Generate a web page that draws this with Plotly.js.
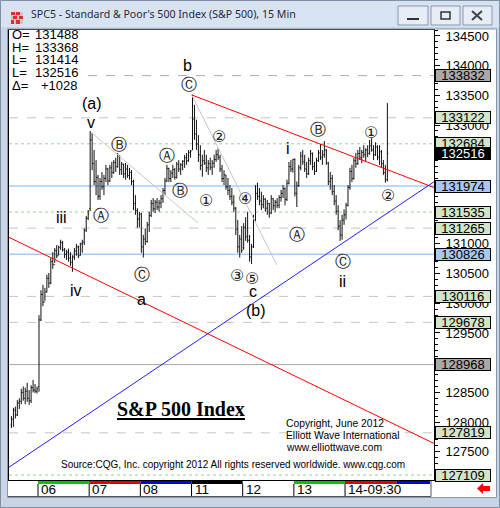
<!DOCTYPE html>
<html><head><meta charset="utf-8">
<script src="https://cdn.plot.ly/plotly-3.0.1.min.js"></script>
<style>html,body{margin:0;padding:0;background:#c9d5e6;}#chart{width:500px;height:508px;}</style>
</head><body><div id="chart"></div>
<script>
// ---------- DATA (S&P 500 index points, 15-min bars) ----------
const openP = [
1279.5,1280.5,1282.0,1281.2,1283.2,1283.5,1285.0,1284.0,1285.2,1284.0,1283.6,1285.8,1285.4,1285.2,
1286.0,1297.2,1301.5,1300.2,1301.9,1304.2,1303.4,1307.0,1306.5,1308.9,1308.0,1309.4,1310.2,1309.0,1308.2,1308.6,1307.6,1306.9,1307.8,1308.8,1309.5,1308.0,1310.0,1310.3,1312.3,1314.3,
1315.9,1327.5,1323.5,1320.5,1321.2,1318.0,1320.5,1319.6,1321.0,1322.6,1320.6,1322.8,1322.0,1323.7,1323.0,1324.8,1322.5,1323.4,1321.8,1322.6,1321.5,1322.0,1320.5,1316.8,1315.6,1314.2,
1315.0,1309.5,1310.8,1310.4,1313.2,1314.8,1316.8,1315.9,1317.0,1316.2,1316.9,1317.6,1319.0,1320.6,1322.7,1321.0,1321.9,1322.5,1321.2,1323.4,1322.6,1323.3,1323.9,1324.5,1324.0,1325.4,
1325.8,1331.0,1328.5,1326.8,1325.0,1323.2,1324.0,1323.6,1322.8,1323.5,1322.9,1323.6,1324.2,1325.0,1324.6,1322.6,1321.0,1321.6,1319.6,1319.0,1318.0,1317.0,1316.0,1312.5,1309.5,1310.8,
1309.4,1312.8,1311.2,1310.6,1307.8,1309.5,1314.0,1318.5,1318.0,1317.2,1316.6,1317.5,1316.0,1316.8,1315.2,1317.6,1316.4,1317.0,1316.5,1317.8,1318.5,1319.3,1317.5,1320.2,1323.0,1322.6,
1324.2,1318.5,1319.8,1322.8,1324.8,1323.8,1322.6,1321.8,1324.0,1325.2,1323.0,1322.2,1324.0,1325.3,1324.6,1325.0,1325.8,1323.6,1320.5,1321.0,1318.8,1317.2,1315.5,1313.0,1311.5,1314.0,
1314.9,1316.5,1319.5,1322.2,1321.0,1324.0,1323.5,1325.2,1324.5,1325.4,1325.0,1325.8,1325.2,1326.5,1325.8,1325.0,1326.3,1324.6,1325.5,1323.5,1322.0,1320.8];
const highP = [
1281.0,1282.4,1282.6,1283.7,1284.0,1285.6,1286.0,1285.8,1286.6,1285.4,1286.2,1287.1,1286.4,1286.0,
1298.0,1302.2,1303.1,1302.6,1304.8,1305.1,1307.6,1308.6,1309.3,1309.8,1309.7,1310.7,1310.5,1309.3,1309.0,1309.2,1308.6,1308.1,1309.3,1310.0,1309.7,1310.2,1310.7,1312.6,1314.7,1315.7,
1329.0,1328.7,1325.8,1324.1,1321.6,1321.1,1322.1,1321.6,1323.3,1322.8,1323.3,1323.8,1324.1,1324.5,1325.3,1324.9,1323.8,1323.5,1323.6,1323.3,1322.8,1322.4,1320.8,1318.2,1316.0,1315.4,
1315.2,1311.5,1312.6,1313.7,1315.4,1317.4,1317.7,1317.4,1317.7,1317.4,1318.2,1319.4,1321.1,1323.3,1322.8,1322.4,1323.3,1322.8,1323.8,1324.1,1323.6,1324.1,1325.0,1325.3,1325.8,1325.8,
1335.1,1333.4,1330.9,1328.3,1326.6,1325.0,1325.8,1325.0,1324.1,1324.5,1324.1,1325.0,1325.8,1326.1,1325.0,1323.3,1322.4,1321.6,1321.1,1319.9,1319.4,1318.2,1316.2,1314.0,1311.5,1313.0,
1313.5,1314.5,1315.4,1311.5,1310.0,1314.9,1319.9,1320.3,1319.4,1318.8,1318.2,1317.7,1317.4,1316.9,1318.2,1317.7,1317.4,1317.7,1318.2,1319.1,1319.9,1319.5,1320.8,1323.8,1324.1,1324.3,
1324.4,1320.5,1323.3,1325.5,1325.8,1325.0,1323.8,1324.5,1325.8,1325.4,1323.8,1324.5,1325.8,1326.8,1325.8,1327.3,1326.0,1323.8,1322.1,1321.6,1319.9,1318.2,1316.5,1314.0,1314.9,1315.8,
1316.9,1319.9,1322.8,1323.3,1324.5,1325.3,1325.8,1326.3,1325.8,1326.6,1326.1,1326.6,1327.5,1327.8,1326.6,1327.1,1326.6,1326.6,1325.8,1324.1,1323.3,1333.7];
const lowP = [
1279.0,1279.2,1280.6,1281.0,1282.2,1283.0,1283.6,1283.0,1283.4,1282.9,1283.2,1285.0,1284.9,1284.8,
1285.1,1297.0,1299.5,1300.4,1301.8,1302.6,1303.2,1305.8,1306.8,1307.6,1308.1,1309.0,1308.7,1307.6,1307.3,1307.0,1306.3,1305.3,1307.3,1308.0,1307.6,1308.0,1308.5,1309.8,1312.0,1314.0,
1315.5,1322.4,1319.9,1318.2,1317.4,1317.4,1319.1,1318.2,1320.4,1319.9,1320.4,1321.1,1321.8,1322.1,1322.8,1321.6,1321.6,1321.1,1320.8,1321.1,1320.8,1319.9,1315.7,1314.9,1312.7,1312.8,
1308.5,1307.7,1309.8,1310.2,1312.0,1314.5,1315.4,1315.2,1315.7,1315.4,1316.0,1316.9,1318.2,1320.4,1320.4,1320.4,1321.1,1320.8,1321.0,1322.1,1321.6,1322.4,1322.8,1323.3,1323.8,1324.5,
1325.8,1327.5,1325.8,1323.8,1322.4,1321.3,1323.3,1322.1,1321.6,1322.4,1321.6,1322.8,1323.8,1324.1,1322.1,1320.4,1319.9,1319.1,1318.2,1317.4,1316.5,1315.4,1311.5,1308.5,1307.7,1308.5,
1309.0,1310.5,1310.2,1307.0,1306.6,1309.3,1313.8,1317.4,1316.5,1315.7,1316.0,1315.4,1314.9,1314.4,1315.0,1315.7,1315.4,1316.0,1316.0,1317.1,1317.7,1316.5,1317.2,1320.0,1322.1,1322.0,
1318.0,1316.2,1319.6,1322.4,1323.3,1322.1,1321.1,1321.6,1323.3,1322.4,1321.6,1322.1,1323.8,1324.1,1323.3,1324.5,1323.3,1319.9,1319.1,1318.2,1316.5,1314.9,1312.3,1310.5,1310.7,1313.2,
1314.1,1316.3,1319.1,1320.4,1320.8,1322.8,1323.3,1324.1,1323.6,1324.5,1323.8,1324.6,1325.0,1325.5,1324.1,1324.8,1324.1,1323.3,1322.8,1321.6,1320.3,1320.5];
const closeP = [
1280.5,1282.0,1281.2,1283.2,1283.5,1285.0,1284.0,1285.2,1284.0,1283.6,1285.8,1285.4,1285.2,1285.6,
1297.2,1301.5,1300.2,1301.9,1304.2,1303.4,1307.0,1306.5,1308.9,1308.0,1309.4,1310.2,1309.0,1308.2,1308.6,1307.6,1306.9,1307.8,1308.8,1309.5,1308.0,1310.0,1310.3,1312.3,1314.3,1315.0,
1327.5,1323.5,1320.5,1321.2,1318.0,1320.5,1319.6,1321.0,1322.6,1320.6,1322.8,1322.0,1323.7,1323.0,1324.8,1322.5,1323.4,1321.8,1322.6,1321.5,1322.0,1320.5,1316.8,1315.6,1314.2,1315.0,
1309.5,1310.8,1310.4,1313.2,1314.8,1316.8,1315.9,1317.0,1316.2,1316.9,1317.6,1319.0,1320.6,1322.7,1321.0,1321.9,1322.5,1321.2,1323.4,1322.6,1323.3,1323.9,1324.5,1324.0,1325.4,1325.6,
1331.0,1328.5,1326.8,1325.0,1323.2,1324.0,1323.6,1322.8,1323.5,1322.9,1323.6,1324.2,1325.0,1324.6,1322.6,1321.0,1321.6,1319.6,1319.0,1318.0,1317.0,1316.0,1312.5,1309.5,1310.8,1308.9,
1312.8,1311.2,1310.6,1307.8,1309.5,1314.0,1318.5,1318.0,1317.2,1316.6,1317.5,1316.0,1316.8,1315.2,1317.6,1316.4,1317.0,1316.5,1317.8,1318.5,1319.3,1317.5,1320.2,1323.0,1322.6,1324.2,
1318.5,1319.8,1322.8,1324.8,1323.8,1322.6,1321.8,1324.0,1325.2,1323.0,1322.2,1324.0,1325.3,1324.6,1325.0,1325.8,1323.6,1320.5,1321.0,1318.8,1317.2,1315.5,1313.0,1311.5,1314.0,1314.9,
1316.5,1319.5,1322.2,1321.0,1324.0,1323.5,1325.2,1324.5,1325.4,1325.0,1325.8,1325.2,1326.5,1325.8,1325.0,1326.3,1324.6,1325.5,1323.5,1322.0,1320.8,1325.2];

const dayLabels = ['06','07','08','11','12','13','14-09:30'];
const dayStartBars = [14,40,66,92,118,144,170];

const levelValues = [133832,133122,132684,132516,131974,131535,131265,130826,130116,129678,128968,127819,127109];

// price-scale labels that are not fully hidden by the level boxes
const yTickVals = [1275,1280,1285,1295,1300,1305,1310,1330,1335,1340,1345];
const yTickText = ['127500','128000','128500','129500','130000','130500','131000','133000','133500','134000','134500'];

const infoLabels = ['O=','H=','L=','L=','\u0394='];
const infoValues = ['131488','133368','131414','132516','+1028'];

// ---------- LAYOUT HELPERS ----------
const PL=9, PR=434, PT=30, PB=480;
const px = x => (x-PL)/(PR-PL);
const py = y => (PB-y)/(PB-PT);
const barIndex = openP.map((_,i)=>i);
const XR = [-1.24, 214.7], YR = [1270.25, 1346.0];

const shapes = [];
const ann = [];
shapes.push({type:'rect',xref:'paper',yref:'paper',x0:px(8),x1:px(496),y0:py(497),y1:py(29),fillcolor:'#ffffff',line:{width:0},layer:'below'});
shapes.push({type:'rect',xref:'paper',yref:'paper',x0:px(0),x1:px(500),y0:py(27),y1:py(0),fillcolor:'#d8e3f1',line:{width:0},layer:'below'});
shapes.push({type:'rect',xref:'paper',yref:'paper',x0:px(0.5),x1:px(499.5),y0:py(507.5),y1:py(0.5),line:{color:'#7f8fa6',width:1}});
shapes.push({type:'rect',xref:'paper',yref:'paper',x0:px(7.5),x1:px(496.5),y0:py(497.5),y1:py(29),line:{color:'#8a98ac',width:1}});
[[398,428],[431,460],[463,492]].forEach(b=>{
  shapes.push({type:'rect',xref:'paper',yref:'paper',x0:px(b[0]),x1:px(b[1]),y0:py(25),y1:py(6),fillcolor:'#e6edf6',line:{color:'#8796ae',width:1}});
});
shapes.push({type:'line',xref:'paper',yref:'paper',x0:px(407),x1:px(419),y0:py(19),y1:py(19),line:{color:'#333',width:2}});
shapes.push({type:'rect',xref:'paper',yref:'paper',x0:px(441),x1:px(450),y0:py(19),y1:py(12),line:{color:'#333',width:1.5}});
shapes.push({type:'line',xref:'paper',yref:'paper',x0:px(472),x1:px(482),y0:py(11),y1:py(20),line:{color:'#444',width:2}});
shapes.push({type:'line',xref:'paper',yref:'paper',x0:px(472),x1:px(482),y0:py(20),y1:py(11),line:{color:'#444',width:2}});
shapes.push({type:'rect',xref:'paper',yref:'paper',x0:px(11),x1:px(23),y0:py(24),y1:py(12),fillcolor:'#c8c8c8',line:{width:0}});
[[11,12,15,15],[16,12,20,15],[13,16,17,19],[19,16,23,19],[11,20,14,24],[16,20,20,24]].forEach(r=>{
  shapes.push({type:'rect',xref:'paper',yref:'paper',x0:px(r[0]),x1:px(r[2]),y0:py(r[3]),y1:py(r[1]),fillcolor:'#d83030',line:{width:0}});
});

// horizontal level lines
const levelStyle = {
  133832:{c:'#b4a4bc',d:'dash',x0:px(88)}, 133122:{c:'#c4c4c4',d:'dash'}, 132684:{c:'#9ccf9c',d:'dot'},
  131974:{c:'#a9cdf2',d:'solid',w:1.5}, 131535:{c:'#9ccf9c',d:'dot'}, 131265:{c:'#c4c4c4',d:'dash'},
  130826:{c:'#a9cdf2',d:'solid',w:1.5}, 130116:{c:'#c0c8c0',d:'dash'}, 129678:{c:'#c4c4c4',d:'dash'},
  128968:{c:'#a8a8a8',d:'solid'}, 127819:{c:'#c4c4c4',d:'dash'}, 127109:{c:'#9ccf9c',d:'dot'}
};
levelValues.forEach(v=>{
  const s = levelStyle[v]; if(!s) return;
  shapes.push({type:'line',xref:'paper',yref:'y',x0:s.x0||0,x1:1,y0:v/100,y1:v/100,line:{color:s.c,dash:s.d,width:s.w||1},layer:'below'});
});
const boxStyle = {133832:['#a9a9a9','#000'],132516:['#000000','#fff'],131974:['#a8c8f2','#000'],130826:['#a8c8f2','#000'],128968:['#a9a9a9','#000']};
levelValues.forEach(v=>{
  const st = boxStyle[v] || ['#d2e4c9','#000'];
  ann.push({xref:'paper',yref:'y',x:px(463),y:v/100,text:String(v),showarrow:false,xanchor:'center',yanchor:'middle',
    width:54,height:11,bgcolor:st[0],bordercolor:'#000',borderwidth:1,borderpad:0,
    font:{family:'Liberation Sans, Arial',size:13,color:st[1]}});
});

// trend lines
const tl = (x0,y0,x1,y1,c)=>shapes.push({type:'line',xref:'x',yref:'y',x0,y0,x1,y1,line:{color:c,width:1}});
tl(40.9,1328.67,94.8,1313.5,'#c8c8c8');
tl(91.6,1335.07,134.8,1306.45,'#c8c8c8');
tl(XR[0],1311.1,XR[1],1276.4,'#ff0000');
tl(91.6,1335.07,XR[1],1319.48,'#ff0000');
tl(XR[0],1272.4,XR[1],1320.45,'#2020ff');

// date strip
const stripColors = ['#00c800','#e00000','#0000e0','#000000',null,'#00c800','#e00000','#0000e0'];
const stripStarts = dayStartBars.concat([196]);
stripStarts.forEach((s,k)=>{
  if(!stripColors[k]) return;
  const e = k+1<stripStarts.length ? stripStarts[k+1]-0.5 : XR[1]-2;
  shapes.push({type:'rect',xref:'x',yref:'paper',x0:s-0.5,x1:e,y0:py(484),y1:py(481),fillcolor:stripColors[k],line:{width:0}});
});
dayStartBars.forEach((s,k)=>{
  shapes.push({type:'line',xref:'x',yref:'paper',x0:s-0.5,x1:s-0.5,y0:py(497),y1:py(484),line:{color:'#000',width:1}});
  ann.push({xref:'x',yref:'paper',x:s-0.5,y:py(490),xanchor:'left',yanchor:'middle',xshift:1,text:dayLabels[k],showarrow:false,
    font:{family:'Liberation Sans, Arial',size:13.5,color:'#000'}});
});
shapes.push({type:'line',xref:'paper',yref:'paper',x0:px(8),x1:px(431),y0:py(496.5),y1:py(496.5),line:{color:'#555',width:1}});
shapes.push({type:'line',xref:'paper',yref:'paper',x0:px(431),x1:px(431),y0:py(496.5),y1:py(481),line:{color:'#555',width:1}});
const pp = pts => 'M'+pts.map(p=>px(p[0])+','+py(p[1])).join(' L')+' Z';
shapes.push({type:'path',xref:'paper',yref:'paper',path:pp([[477,488.5],[483,483],[483,486],[490,486],[490,491],[483,491],[483,494]]),fillcolor:'#ff0000',line:{width:0}});
shapes.push({type:'line',xref:'paper',yref:'paper',x0:px(117),x1:px(245),y0:py(419),y1:py(419),line:{color:'#000',width:2}});

ann.push({xref:'paper',yref:'paper',x:px(29),y:py(14),xanchor:'left',yanchor:'middle',showarrow:false,
  text:'SPC5 - Standard &amp; Poor\'s 500 Index (S&amp;P 500), 15 Min',font:{family:'Noto Sans, Open Sans',size:10.6,color:'#1e2a3a'}});
infoLabels.forEach((t,k)=>{
  const yy = 35 + k*12.5;
  ann.push({xref:'paper',yref:'paper',x:px(10),y:py(yy),xanchor:'left',yanchor:'middle',showarrow:false,text:t,font:{family:'Liberation Sans, Arial',size:13,color:'#000'}});
  ann.push({xref:'paper',yref:'paper',x:px(80),y:py(yy),xanchor:'right',yanchor:'middle',showarrow:false,text:infoValues[k],font:{family:'Liberation Sans, Arial',size:13,color:'#000'}});
});
[['b',89.7,1340.1],['(a)',40.9,1333.7],['v',40.4,1330.5],['iii',25.2,1314.5],['iv',32.8,1302.1],['a',66.3,1300.7],
 ['c',122.7,1301.9],['(b)',124.3,1298.7],['i',140.5,1326.0],['ii',168.0,1303.6]].forEach(w=>{
  ann.push({xref:'x',yref:'y',x:w[1],y:w[2],xanchor:'center',yanchor:'middle',text:w[0],showarrow:false,font:{family:'Liberation Sans, Arial',size:16,color:'#000'}});
});
[['\u24B8',90.4,1336.9],['\u24B7',54.7,1326.8],['\u24B6',45.5,1314.7],['\u24B8',66.2,1304.8],['\u24B6',78.9,1324.8],['\u24B7',85.7,1319.0],
 ['\u2460',98.9,1317.3],['\u2461',105.6,1328.0],['\u2463',118.7,1317.7],['\u2462',114.5,1304.6],['\u2464',122.1,1304.1],
 ['\u24B6',145.0,1311.5],['\u24B7',155.9,1329.2],['\u24B8',168.6,1307.0],['\u2460',182.6,1328.7],['\u2461',191.5,1318.2]].forEach(w=>{
  ann.push({xref:'x',yref:'y',x:w[1],y:w[2],xanchor:'center',yanchor:'middle',text:w[0],showarrow:false,font:{family:'DejaVu Sans',size:16,color:'#222'}});
});
ann.push({xref:'paper',yref:'paper',x:px(181),y:py(409),xanchor:'center',yanchor:'middle',showarrow:false,text:'<b>S&amp;P 500 Index</b>',font:{family:'Liberation Serif, Times New Roman',size:20,color:'#000'}});
['Copyright, June 2012','Elliott Wave International','www.elliottwave.com'].forEach((t,k)=>{
  ann.push({xref:'paper',yref:'paper',x:px(284),y:py(423+k*12),xanchor:'left',yanchor:'middle',showarrow:false,text:t,font:{family:'Liberation Sans, Arial',size:10.3,color:'#000'}});
});
ann.push({xref:'paper',yref:'paper',x:px(233),y:py(464),xanchor:'center',yanchor:'middle',showarrow:false,
  text:'Source:CQG, Inc. copyright 2012 All rights reserved worldwide. www.cqg.com',font:{family:'Liberation Sans, Arial',size:10,color:'#000'}});

const trace = {type:'ohlc',x:barIndex,open:openP,high:highP,low:lowP,close:closeP,
  increasing:{line:{color:'#111',width:1}},decreasing:{line:{color:'#111',width:1}},tickwidth:0.45,hoverinfo:'skip'};

const layout = {
  width:500,height:508,margin:{l:PL,r:500-PR,t:PT,b:508-PB,pad:0},
  paper_bgcolor:'#c9d5e6',plot_bgcolor:'#ffffff',showlegend:false,
  xaxis:{range:XR,rangeslider:{visible:false},showgrid:false,zeroline:false,showticklabels:false,ticks:'',
    showline:true,mirror:true,linecolor:'#000',linewidth:1,automargin:false,fixedrange:true},
  yaxis:{range:YR,side:'right',showgrid:false,zeroline:false,tickmode:'array',tickvals:yTickVals,ticktext:yTickText,
    ticks:'outside',ticklen:5,tickcolor:'#000',ticklabelstandoff:3,
    minor:{tickmode:'linear',tick0:0,dtick:1,ticks:'outside',ticklen:3,tickcolor:'#000',showgrid:false},
    tickfont:{family:'Liberation Sans, Arial',size:13,color:'#000'},showline:true,mirror:true,linecolor:'#000',linewidth:1,automargin:false},
  yaxis2:{range:YR,overlaying:'y',side:'left',anchor:'x',showgrid:false,zeroline:false,showticklabels:false,
    tickmode:'linear',tick0:0,dtick:5,ticks:'inside',ticklen:6,tickcolor:'#000',
    minor:{tickmode:'linear',tick0:0,dtick:1,ticks:'inside',ticklen:4,tickcolor:'#000',showgrid:false},automargin:false},
  shapes:shapes,annotations:ann
};
Plotly.newPlot('chart',[trace],layout,{staticPlot:true,displayModeBar:false});
</script></body></html>
